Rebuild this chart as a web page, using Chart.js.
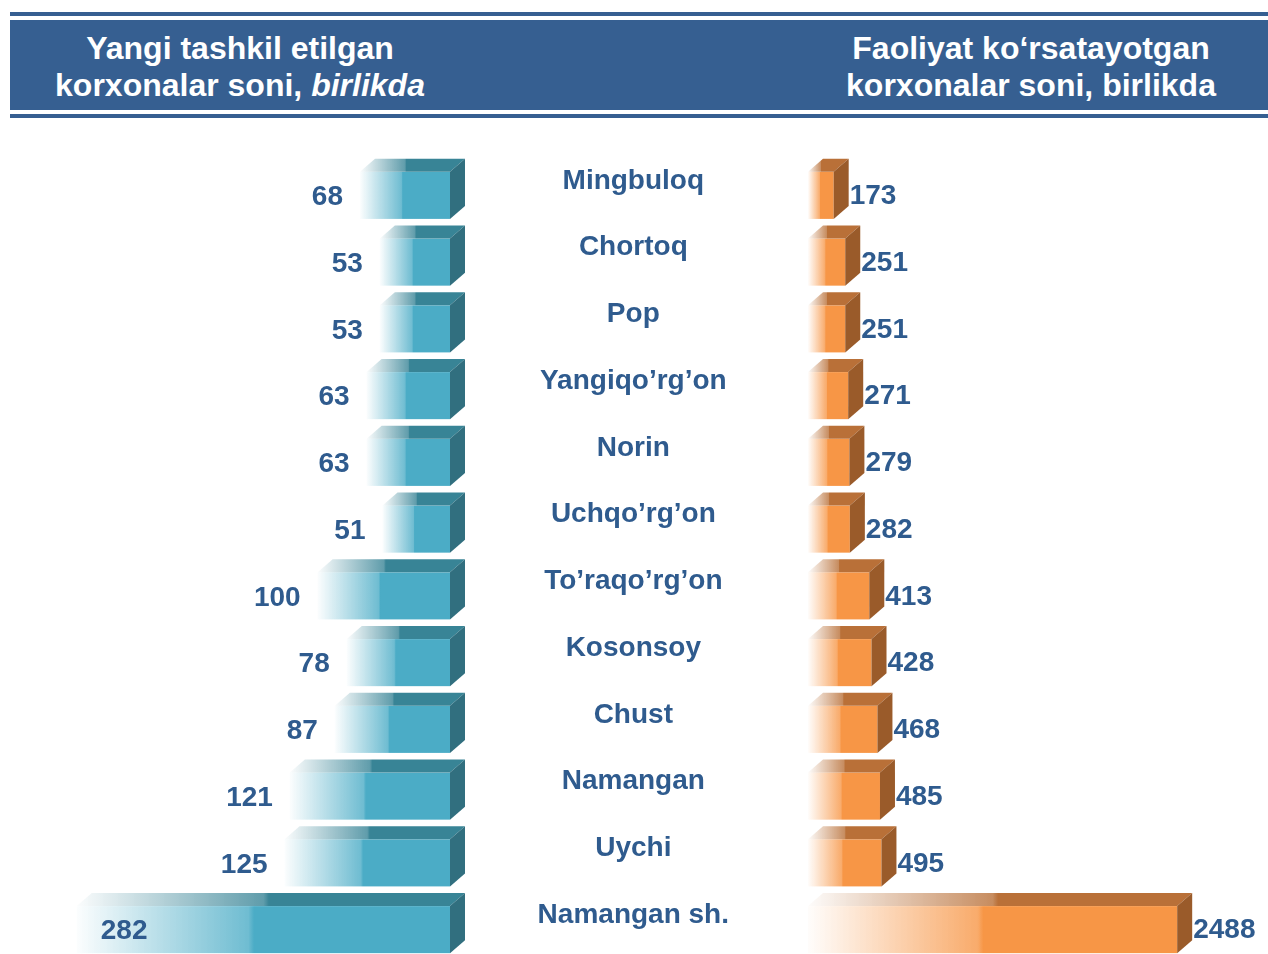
<!DOCTYPE html>
<html>
<head>
<meta charset="utf-8">
<script src="https://cdn.jsdelivr.net/npm/chart.js@4.4.1/dist/chart.umd.min.js"></script>
<style>
html, body { margin: 0; padding: 0; background: #fff; overflow: hidden; width: 1268px; height: 954px; }
body { position: relative; font-family: "Liberation Sans", Arial, sans-serif; }
.rule { position: absolute; left: 10px; right: 0; background: #365F91; }
.head { position: absolute; top: 30px; width: 440px; text-align: center; color: #fff;
        font-weight: bold; font-size: 32px; line-height: 37px; }
#wrapLeft { position: absolute; left: 0; top: 128px; width: 480px; height: 842px; }
#wrapRight { position: absolute; left: 480px; top: 128px; width: 788px; height: 842px; }
</style>
</head>
<body>
<div class="rule" style="top:12px;height:4px"></div>
<div class="rule" style="top:20px;height:90px"></div>
<div class="rule" style="top:114px;height:4px"></div>
<div class="head" style="left:20px">Yangi tashkil etilgan<br>korxonalar soni, <i>birlikda</i></div>
<div class="head" style="left:811px">Faoliyat ko‘rsatayotgan<br>korxonalar soni, birlikda</div>

<div id="wrapLeft"><canvas id="leftChart"></canvas></div>
<div id="wrapRight"><canvas id="rightChart"></canvas></div>

<script>
const districts = ['Mingbuloq', 'Chortoq', 'Pop', 'Yangiqo’rg’on', 'Norin', 'Uchqo’rg’on',
    'To’raqo’rg’on', 'Kosonsoy', 'Chust', 'Namangan', 'Uychi', 'Namangan sh.'];
const newFirms = [68, 53, 53, 63, 63, 51, 100, 78, 87, 121, 125, 282]; // yangi tashkil etilgan
const activeFirms = [173, 251, 251, 271, 279, 282, 413, 428, 468, 485, 495, 2488]; // faoliyat ko'rsatayotgan

const textBlue = '#2F5B8E';
const DX = 15, DY = 13; // depth of the 3d box

Chart.defaults.font.family = '"Liberation Sans", Arial, sans-serif';

function rgba(c, a) {
    return 'rgba(' + c[0] + ',' + c[1] + ',' + c[2] + ',' + a + ')';
}

// draws every bar element as a 3d box with a fading front
function bars3d(colors, toLeft) {
    return {
        id: 'bars3d',
        afterDatasetsDraw(chart) {
            const ctx = chart.ctx;
            const meta = chart.getDatasetMeta(0);
            const values = chart.data.datasets[0].data;
            ctx.save();
            meta.data.forEach((bar, i) => {
                const p = bar.getProps(['x', 'y', 'base', 'height'], true);
                const top = p.y - p.height / 2, bottom = p.y + p.height / 2;
                const start = Math.min(p.x, p.base);
                const end = Math.max(p.x, p.base);
                const grad = (c, stop) => {
                    const g = ctx.createLinearGradient(start, 0, end, 0);
                    g.addColorStop(0, rgba(c, 0.02));
                    g.addColorStop(stop, rgba(c, 0.8));
                    g.addColorStop(stop + 0.015, rgba(c, 1));
                    g.addColorStop(1, rgba(c, 1));
                    return g;
                };

                ctx.fillStyle = grad(colors.front, 0.46);
                ctx.fillRect(start, top, end - start, p.height);

                ctx.beginPath();
                ctx.moveTo(start, top);
                ctx.lineTo(end, top);
                ctx.lineTo(end + DX, top - DY);
                ctx.lineTo(start + DX, top - DY);
                ctx.closePath();
                ctx.fillStyle = grad(colors.top, 0.5);
                ctx.fill();

                ctx.beginPath();
                ctx.moveTo(end, top);
                ctx.lineTo(end + DX, top - DY);
                ctx.lineTo(end + DX, bottom - DY);
                ctx.lineTo(end, bottom);
                ctx.closePath();
                ctx.fillStyle = colors.side;
                ctx.fill();

                // value label
                const txt = String(values[i]);
                ctx.font = 'bold 28px "Liberation Sans", Arial, sans-serif';
                ctx.fillStyle = textBlue;
                ctx.textBaseline = 'middle';
                const w = ctx.measureText(txt).width;
                if (toLeft) {
                    if (start - 17 - w < 30) {
                        ctx.textAlign = 'left';
                        ctx.fillText(txt, start + 24, p.y + 2);
                    } else {
                        ctx.textAlign = 'right';
                        ctx.fillText(txt, start - 17, p.y + 2);
                    }
                } else {
                    ctx.textAlign = 'left';
                    ctx.fillText(txt, end + DX + 1, p.y + 1);
                }
            });
            ctx.restore();
        }
    };
}

new Chart(document.getElementById('leftChart'), {
    type: 'bar',
    data: {
        labels: districts,
        datasets: [{
            data: newFirms,
            backgroundColor: 'rgba(0,0,0,0)',
            barPercentage: 0.705,
            categoryPercentage: 1
        }]
    },
    options: {
        indexAxis: 'y',
        responsive: true,
        maintainAspectRatio: false,
        animation: false,
        events: [],
        layout: { padding: { top: 34, bottom: 7, left: 0, right: 30 } },
        plugins: { legend: { display: false }, tooltip: { enabled: false } },
        scales: {
            x: { display: false, reverse: true, min: 0, max: 340 },
            y: { display: false }
        }
    },
    plugins: [bars3d({ front: [75, 172, 198], top: [56, 132, 150], side: '#316F7F' }, true)]
});

new Chart(document.getElementById('rightChart'), {
    type: 'bar',
    data: {
        labels: districts,
        datasets: [{
            data: activeFirms,
            backgroundColor: 'rgba(0,0,0,0)',
            barPercentage: 0.705,
            categoryPercentage: 1
        }]
    },
    options: {
        indexAxis: 'y',
        responsive: true,
        maintainAspectRatio: false,
        animation: false,
        events: [],
        layout: { padding: { top: 34, bottom: 7, left: 0, right: 0 } },
        plugins: { legend: { display: false }, tooltip: { enabled: false } },
        scales: {
            x: { display: false, min: 0, max: 3100 },
            y: {
                position: 'left',
                grid: { display: false, drawTicks: false },
                border: { display: false },
                ticks: {
                    autoSkip: false,
                    crossAlign: 'center',
                    padding: 79,
                    labelOffset: -14.5,
                    color: textBlue,
                    font: { size: 28, weight: 'bold' }
                },
                afterFit(scale) {
                    // district names sit in the gap between the two charts
                    scale.width = 328;
                    scale.paddingTop = 0;
                    scale.paddingBottom = 0;
                }
            }
        }
    },
    plugins: [bars3d({ front: [247, 150, 70], top: [185, 112, 56], side: '#9A5B2A' }, false)]
});
</script>
</body>
</html>
